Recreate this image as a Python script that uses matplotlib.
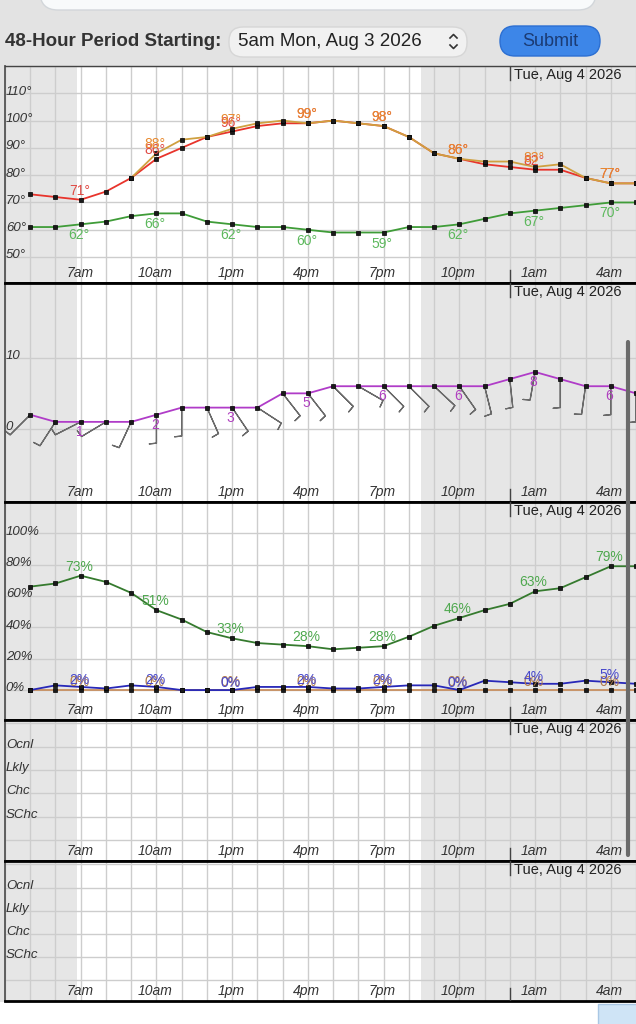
"""
NWS style hourly weather graph, 48-hour period starting 5am Mon Aug 3 2026.
"""
import numpy as np
import matplotlib
matplotlib.use("Agg")
import matplotlib.pyplot as plt
import matplotlib.transforms as mtransforms
from matplotlib.patches import FancyBboxPatch, Rectangle
from matplotlib.lines import Line2D

plt.rcParams['font.family'] = ['Liberation Sans', 'DejaVu Sans']

W, H = 636, 1024
PX_PER_HOUR = 25.4

# Data (hours counted from 5am Mon)
hours = np.arange(25)
label_hours = [2, 5, 8, 11, 14, 17, 20, 23]
hour_labels = ["7am", "10am", "1pm", "4pm", "7pm", "10pm", "1am", "4am"]
midnight = 19
date_label = "Tue, Aug 4 2026"
sunrise = 1.85
sunset = 15.47

temperature = [73, 72, 71, 74, 79, 86, 90, 94, 96, 98, 99, 99, 100, 99, 98,
               94, 88, 86, 84, 83, 82, 82, 79, 77, 77]
heat_index = [np.nan] * 4 + [79, 88, 93, 94, 97, 99, 100, 99, 100, 99, 98,
                             94, 88, 86, 85, 85, 83, 84, 79, 77, 77]
dewpoint = [61, 61, 62, 63, 65, 66, 66, 63, 62, 61, 61, 60, 59, 59, 59,
            61, 61, 62, 64, 66, 67, 68, 69, 70, 70]
wind_speed = [2, 1, 1, 1, 1, 2, 3, 3, 3, 3, 5, 5, 6, 6, 6, 6, 6, 6, 6, 7,
              8, 7, 6, 6, 5]
wind_dir = [225, 213, 243, 239, 205, 180, 180, 156, 146, 123, 142, 142, 135,
            120, 135, 135, 133, 145, 166, 174, 190, 180, 188, 180, 180]
humidity = [66, 68, 73, 69, 62, 51, 45, 37, 33, 30, 29, 28, 26, 27, 28, 34,
            41, 46, 51, 55, 63, 65, 72, 79, 79]
sky_cover = [0, 3, 2, 1, 3, 2, 0, 0, 0, 2, 2, 2, 1, 1, 2, 3, 3, 0, 6, 5, 4,
             4, 6, 5, 4]
precip = [0] * 25
chance_labels = ["SChc", "Chc", "Lkly", "Ocnl"]

fig = plt.figure(figsize=(W / 100, H / 100), dpi=100, facecolor='white')

# pixel coords measured from the top left corner
px = mtransforms.Affine2D().scale(1, -1).translate(0, H)

# page background and form header
fig.add_artist(Rectangle((0, 0), W, 1002, transform=px, facecolor='#e3e3e3',
                         edgecolor='none', zorder=-5))
fig.add_artist(FancyBboxPatch((40, -40), 556, 50, boxstyle="round,pad=0,rounding_size=18",
                              transform=px, facecolor='#f8fafb', edgecolor='#d2d6da',
                              lw=1, zorder=-4))
fig.text(5 / W, 1 - 41 / H, "48-Hour Period Starting:", fontsize=13.5,
         fontweight='bold', color='#333333', va='center', ha='left')
fig.add_artist(FancyBboxPatch((229, 27), 238, 30, boxstyle="round,pad=0,rounding_size=14",
                              transform=px, facecolor='#f1f1f1', edgecolor='#d6d6d6',
                              lw=1, zorder=-3))
fig.text(238 / W, 1 - 42 / H, "5am Mon, Aug 3 2026", fontsize=13.5,
         color='#222222', va='center', ha='left')
fig.add_artist(Line2D([450, 453.5, 457], [38, 34.5, 38], transform=px, color='#333', lw=1.2))
fig.add_artist(Line2D([450, 453.5, 457], [45, 48.5, 45], transform=px, color='#333', lw=1.2))
fig.add_artist(FancyBboxPatch((500, 26), 100, 30, boxstyle="round,pad=0,rounding_size=15",
                              transform=px, facecolor='#3d86e8', edgecolor='#2c6fd2',
                              lw=1, zorder=-3))
fig.text(550 / W, 1 - 41 / H, "Submit", fontsize=13, color='#1b3b73',
         va='center', ha='center')


def add_panel(top, bottom, yticks, ylim):
    ax = fig.add_axes([5 / W, 1 - bottom / H, (W - 5) / W, (bottom - top) / H])
    ax.set_xlim(-1, -1 + (W - 5) / PX_PER_HOUR)
    ax.set_ylim(*ylim)
    ax.set_xticks(np.arange(-1, 25))
    ax.set_yticks(yticks)
    ax.tick_params(length=0, labelbottom=False, labelleft=False)
    ax.set_axisbelow(True)
    ax.grid(True, color='#cdcdcd', lw=1)
    ax.axvspan(-2, sunrise, color='#e6e6e6', lw=0, zorder=0.2)
    ax.axvspan(sunset, 30, color='#e6e6e6', lw=0, zorder=0.2)
    ax.spines['right'].set_visible(False)
    ax.spines['left'].set_color('#555555')
    ax.spines['left'].set_linewidth(1.3)
    ax.spines['bottom'].set_color('black')
    ax.spines['bottom'].set_linewidth(2)
    ax.spines['top'].set_color('black')
    ax.spines['top'].set_linewidth(2)
    hpx = bottom - top
    for h, lbl in zip(label_hours, hour_labels):
        ax.annotate(lbl, (h, 0), xycoords=ax.get_xaxis_transform(),
                    xytext=(-0.8, 7.2), textcoords='offset points', ha='center',
                    va='center', style='italic', fontsize=10, color='#333333')
    ax.axvline(midnight, ymin=1 - 14 / hpx, ymax=1, color='#444', lw=1, zorder=3)
    ax.axvline(midnight, ymin=0, ymax=13 / hpx, color='#444', lw=1, zorder=3)
    ax.annotate(date_label, (midnight, 1), xycoords=ax.get_xaxis_transform(),
                xytext=(3, -6.8), textcoords='offset points', ha='left',
                va='center', fontsize=10.5, color='#222222')
    return ax


def y_labels(ax, values, texts, dy=1.2):
    for val, txt in zip(values, texts):
        ax.annotate(txt, (0, val), xycoords=ax.get_yaxis_transform(),
                    xytext=(0.6, dy), textcoords='offset points', ha='left',
                    va='center', style='italic', fontsize=9.5, color='#333333')


def point_labels(ax, values, fmt, color, dy_px):
    for h in label_hours:
        v = values[h]
        if np.isnan(v):
            continue
        ax.annotate(fmt.format(v), (h, v), xytext=(-1, dy_px * 0.72),
                    textcoords='offset points', ha='center', va='center',
                    fontsize=10, color=color, zorder=5)


def series(ax, values, color, lw=1.3):
    ax.plot(hours, values, color=color, lw=lw, marker='s', ms=3.4,
            mfc='#1a1a1a', mec='#000000', mew=0.5, zorder=3)


# Temperature panel
ax1 = add_panel(66, 283, np.arange(50, 121, 10), (40.5, 120))
ax1.spines['top'].set_linewidth(1)
ax1.spines['top'].set_color('#444444')
y_labels(ax1, np.arange(50, 111, 10), ["{}°".format(v) for v in range(50, 111, 10)])
series(ax1, dewpoint, '#3f9c38')
series(ax1, temperature, '#e8342c')
series(ax1, heat_index, '#cfa040')
point_labels(ax1, np.array(dewpoint, float), "{:.0f}°", '#5cb85c', -11)
point_labels(ax1, np.array(temperature, float), "{:.0f}°", '#e04a44', 9)
point_labels(ax1, np.array(heat_index, float), "{:.0f}°", '#e8892e', 9)

# Wind panel
ax2 = add_panel(283, 502, [0, 10], (-10.24, 20.48))
y_labels(ax2, [0, 10], ["0", "10"])
rad = np.radians(wind_dir)
u = -10 * np.sin(rad)
v = -10 * np.cos(rad)
ax2.barbs(hours, wind_speed, u, v, length=6.4, pivot='tip', barbcolor='#6a6a6a',
          linewidth=0.9, sizes=dict(height=0.25, width=0.05, spacing=0.1), zorder=2.5)
series(ax2, wind_speed, '#b03cc8')
point_labels(ax2, np.array(wind_speed, float), "{:.0f}", '#b040c0', -10)

# Humidity / sky cover / precipitation panel
ax3 = add_panel(502, 720, np.arange(0, 121, 20), (-19.1, 119.7))
y_labels(ax3, np.arange(0, 101, 20), ["{}%".format(v) for v in range(0, 101, 20)])
series(ax3, precip, '#c89060')
series(ax3, sky_cover, '#2828b8')
series(ax3, humidity, '#357a2e')
point_labels(ax3, np.array(precip, float), "{:.0f}%", '#b07a4a', 8)
point_labels(ax3, np.array(sky_cover, float), "{:.0f}%", '#4848cc', 7)
point_labels(ax3, np.array(humidity, float), "{:.0f}%", '#4fa84f', 9)

# Two empty chance panels
for top, bottom in [(720, 861), (861, 1001)]:
    ax = add_panel(top, bottom, np.arange(0, 6), (-0.9, 5.15))
    y_labels(ax, np.arange(1, 5), chance_labels, dy=1.5)

# screenshot scrollbar and bottom button edge
fig.add_artist(Line2D([628, 628], [342, 855], transform=px, color='#6a6a6a',
                      lw=3, solid_capstyle='round', zorder=10))
fig.add_artist(Rectangle((598, 1004), 40, 22, transform=px, facecolor='#cfe4f6',
                         edgecolor='#a9c7e4', lw=1, zorder=10))

fig.savefig("out.png", dpi=100, facecolor='white')
